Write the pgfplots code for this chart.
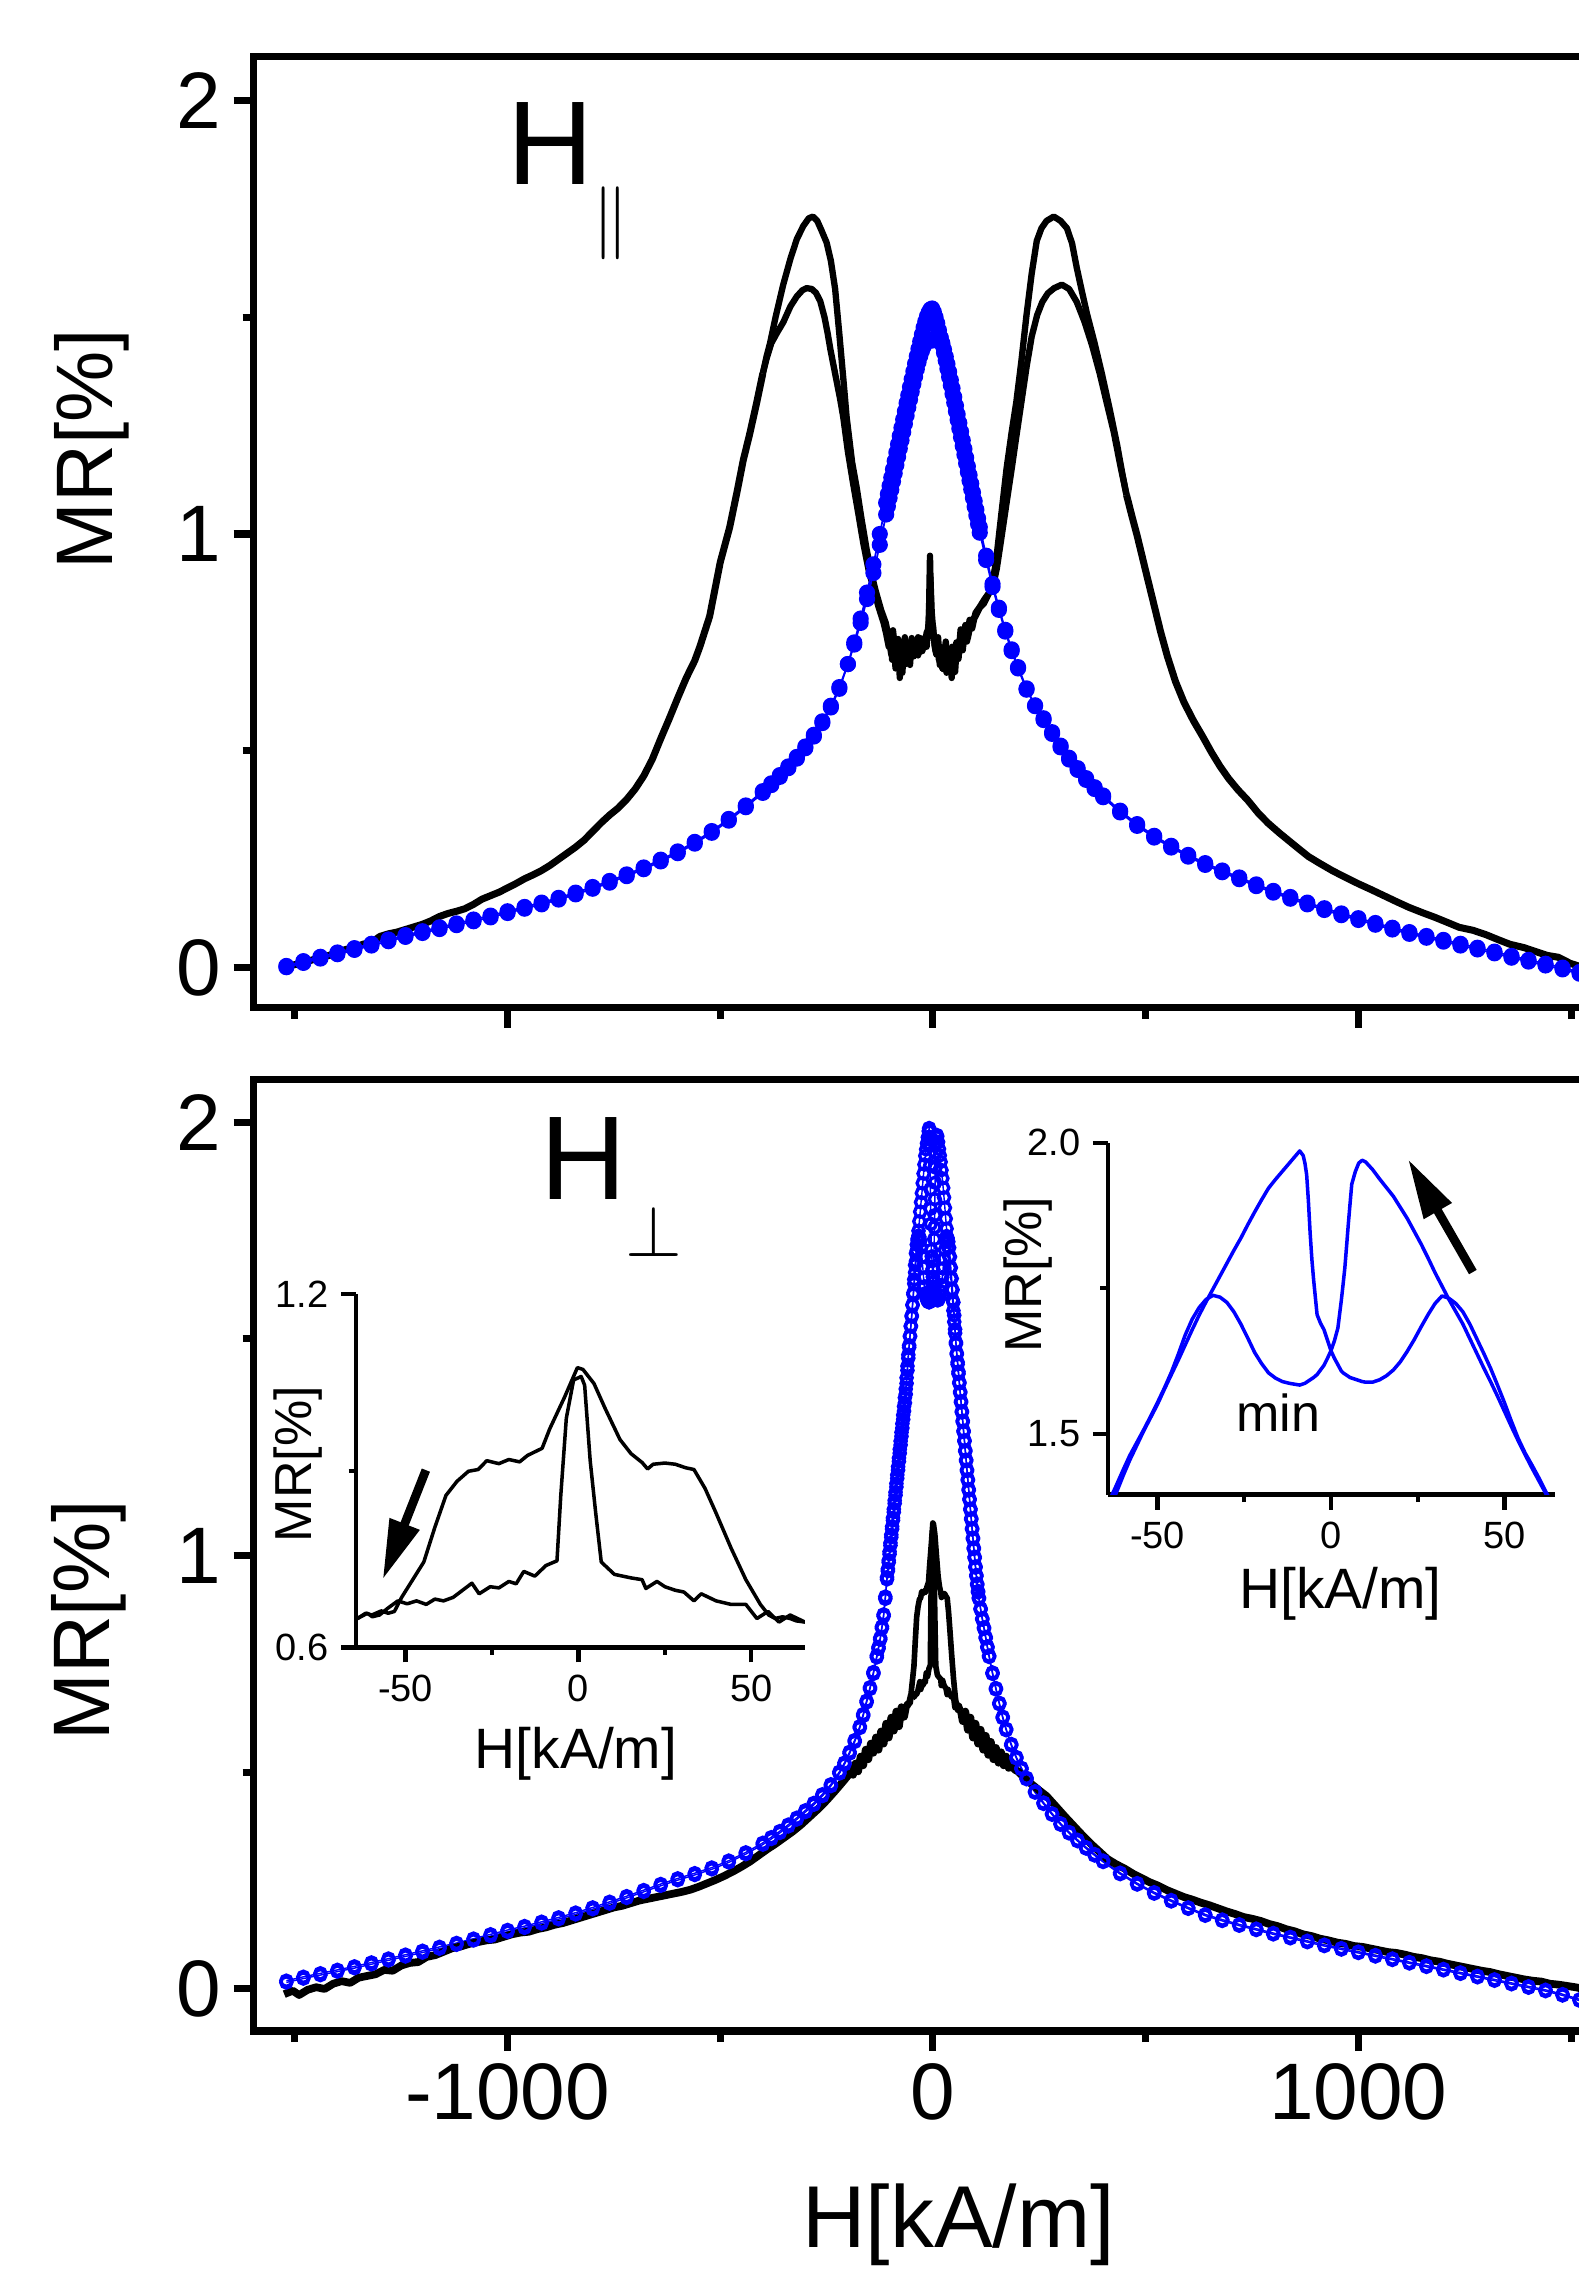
\documentclass[border=0pt]{standalone}
\usepackage{fontspec}
\setmainfont{Liberation Sans}
\usepackage{pgfplots}
\usepackage{pgfplotstable}
\pgfplotsset{compat=1.18}
\usetikzlibrary{arrows.meta}

% ---------------- top panel, blue (two sweeps, shared x) ----------------
\pgfplotstableread[row sep=\\]{
x a b\\
-1520 0.001 0.004\\ -1480 0.011 0.015\\ -1440 0.021 0.025\\ -1400 0.031 0.035\\ -1360 0.041 0.045\\
-1320 0.051 0.055\\ -1280 0.061 0.065\\ -1240 0.071 0.075\\ -1200 0.080 0.084\\ -1160 0.089 0.093\\
-1120 0.098 0.102\\ -1080 0.107 0.111\\ -1040 0.116 0.120\\ -1000 0.126 0.130\\ -960 0.136 0.140\\
-920 0.146 0.150\\ -880 0.157 0.161\\ -840 0.169 0.173\\ -800 0.182 0.186\\ -760 0.196 0.200\\
-720 0.211 0.215\\ -680 0.227 0.231\\ -640 0.245 0.249\\ -600 0.264 0.268\\ -560 0.286 0.290\\
-520 0.311 0.315\\ -480 0.339 0.343\\ -440 0.370 0.374\\ -400 0.403 0.407\\ -380 0.421 0.425\\
-360 0.440 0.444\\ -340 0.460 0.464\\ -320 0.482 0.486\\ -300 0.506 0.510\\ -280 0.533 0.537\\
-260 0.564 0.568\\ -240 0.600 0.604\\ -220 0.643 0.647\\ -200 0.700 0.700\\ -185 0.750 0.745\\
-170 0.805 0.795\\ -155 0.865 0.850\\ -140 0.930 0.910\\ -125 1.000 0.975\\ -110 1.072 1.045\\
-106 1.092 1.064\\ -102 1.111 1.083\\ -98 1.130 1.102\\ -94 1.149 1.121\\ -90 1.168 1.140\\
-86 1.188 1.159\\ -82 1.207 1.178\\ -78 1.226 1.197\\ -74 1.245 1.216\\ -70 1.264 1.235\\
-66 1.283 1.254\\ -62 1.302 1.273\\ -58 1.320 1.292\\ -54 1.339 1.310\\ -50 1.357 1.328\\
-46 1.375 1.346\\ -42 1.393 1.363\\ -38 1.410 1.380\\ -34 1.427 1.396\\ -30 1.444 1.410\\
-26 1.460 1.422\\ -22 1.476 1.432\\ -18 1.490 1.440\\ -14 1.502 1.445\\ -10 1.511 1.447\\
-6 1.518 1.447\\ -2 1.520 1.446\\ 2 1.512 1.448\\ 6 1.500 1.450\\ 10 1.486 1.458\\
14 1.470 1.460\\ 18 1.453 1.453\\ 22 1.436 1.440\\ 26 1.418 1.425\\ 30 1.400 1.409\\
34 1.381 1.392\\ 38 1.362 1.374\\ 42 1.343 1.355\\ 46 1.323 1.336\\ 50 1.303 1.316\\
54 1.283 1.296\\ 58 1.263 1.276\\ 62 1.243 1.256\\ 66 1.223 1.236\\ 70 1.203 1.216\\
74 1.183 1.196\\ 78 1.163 1.176\\ 82 1.143 1.156\\ 86 1.123 1.136\\ 90 1.103 1.116\\
94 1.083 1.096\\ 98 1.063 1.076\\ 102 1.043 1.056\\ 106 1.023 1.036\\ 110 1.003 1.016\\
125 0.940 0.950\\ 140 0.878 0.885\\ 155 0.825 0.830\\ 170 0.775 0.779\\ 185 0.730 0.734\\
200 0.690 0.693\\ 220 0.641 0.644\\ 240 0.605 0.603\\ 260 0.575 0.571\\ 280 0.543 0.539\\
300 0.512 0.508\\ 320 0.484 0.480\\ 340 0.460 0.456\\ 360 0.437 0.433\\ 380 0.416 0.412\\
400 0.397 0.393\\ 440 0.362 0.358\\ 480 0.331 0.327\\ 520 0.304 0.300\\ 560 0.281 0.277\\
600 0.260 0.256\\ 640 0.241 0.237\\ 680 0.224 0.220\\ 720 0.208 0.204\\ 760 0.192 0.188\\
800 0.177 0.173\\ 840 0.163 0.159\\ 880 0.150 0.146\\ 920 0.137 0.133\\ 960 0.125 0.121\\
1000 0.114 0.110\\ 1040 0.103 0.099\\ 1080 0.092 0.088\\ 1120 0.082 0.078\\ 1160 0.073 0.069\\
1200 0.064 0.060\\ 1240 0.055 0.051\\ 1280 0.046 0.042\\ 1320 0.037 0.033\\ 1360 0.027 0.023\\
1400 0.018 0.014\\ 1440 0.009 0.005\\ 1480 0.000 -0.004\\ 1520 -0.010 -0.014\\
}\topblue

% ---------------- top panel, black ----------------
\pgfplotstableread[row sep=\\]{
x y\\
-1525 0.000\\ -1505 0.006\\ -1485 0.010\\ -1465 0.016\\ -1440 0.024\\ -1420 0.028\\ -1400 0.036\\
-1380 0.042\\ -1360 0.046\\ -1340 0.054\\ -1320 0.058\\ -1300 0.072\\ -1280 0.078\\ -1260 0.082\\
-1240 0.088\\ -1220 0.094\\ -1200 0.100\\ -1180 0.108\\ -1160 0.118\\ -1140 0.125\\ -1120 0.130\\
-1100 0.136\\ -1080 0.146\\ -1060 0.158\\ -1040 0.166\\ -1020 0.174\\ -1000 0.184\\ -980 0.194\\
-960 0.205\\ -940 0.214\\ -920 0.224\\ -900 0.236\\ -880 0.250\\ -860 0.264\\ -840 0.278\\
-820 0.294\\ -800 0.314\\ -780 0.334\\ -760 0.352\\ -740 0.368\\ -720 0.388\\ -700 0.412\\
-680 0.442\\ -660 0.480\\ -640 0.528\\ -620 0.574\\ -600 0.622\\ -580 0.668\\ -560 0.708\\
-548 0.740\\ -525 0.810\\ -500 0.935\\ -478 1.015\\ -460 1.100\\ -446 1.170\\ -431 1.230\\
-415 1.300\\ -400 1.370\\
}\topTailL

\pgfplotstableread[row sep=\\]{
x y\\
-400 1.370\\ -391 1.410\\ -383 1.440\\ -370 1.500\\ -352 1.575\\ -335 1.635\\ -320 1.680\\
-305 1.710\\ -292 1.728\\ -282 1.732\\ -272 1.722\\ -262 1.700\\ -250 1.672\\ -240 1.630\\
-230 1.565\\ -220 1.460\\ -210 1.350\\ -203 1.270\\ -190 1.165\\ -179 1.105\\ -168 1.035\\
-156 0.965\\ -145 0.910\\ -135 0.870\\ -122 0.825\\ -111 0.795\\
-104 0.762\\ -98 0.722\\ -94 0.778\\ -90 0.742\\ -86 0.702\\ -82 0.758\\ -78 0.668\\ -74 0.742\\
-70 0.718\\ -66 0.762\\ -62 0.708\\ -58 0.732\\ -54 0.698\\ -50 0.752\\ -45 0.718\\ -40 0.742\\
-35 0.762\\ -30 0.728\\ -25 0.752\\ -20 0.738\\ -15 0.772\\ -10 0.782\\ -7 0.950\\ -4 0.802\\
0 0.788\\ 4 0.742\\ 8 0.722\\ 12 0.762\\ 16 0.698\\ 20 0.732\\ 25 0.688\\ 30 0.752\\ 35 0.702\\
40 0.722\\ 44 0.668\\ 48 0.732\\ 52 0.682\\ 56 0.742\\ 60 0.712\\ 65 0.772\\ 70 0.732\\
75 0.782\\ 80 0.752\\ 86 0.802\\ 92 0.782\\ 100 0.818\\ 110 0.832\\ 120 0.848\\ 130 0.862\\
140 0.875\\ 150 0.920\\ 160 0.985\\ 172 1.065\\ 185 1.150\\ 196 1.225\\ 208 1.305\\ 220 1.385\\
232 1.455\\ 245 1.505\\ 257 1.535\\ 270 1.555\\ 285 1.567\\ 303 1.575\\ 320 1.565\\ 338 1.535\\
356 1.490\\ 374 1.435\\ 392 1.370\\ 409 1.300\\ 425 1.235\\ 440 1.160\\ 455 1.090\\
}\topCurveOne

\pgfplotstableread[row sep=\\]{
x y\\
-400 1.370\\ -391 1.405\\ -380 1.440\\ -366 1.465\\ -352 1.488\\ -335 1.525\\ -320 1.548\\
-307 1.562\\ -297 1.567\\ -285 1.565\\ -275 1.556\\ -265 1.537\\ -255 1.500\\ -248 1.465\\
-241 1.425\\ -233 1.385\\ -226 1.350\\ -218 1.310\\ -211 1.270\\ -200 1.190\\ -188 1.118\\
-176 1.050\\ -164 0.980\\ -152 0.920\\ -140 0.875\\ -128 0.832\\ -116 0.795\\
-110 0.770\\ -104 0.740\\ -100 0.770\\ -96 0.710\\ -92 0.750\\ -88 0.690\\ -84 0.740\\ -80 0.700\\
-76 0.730\\ -72 0.680\\ -68 0.740\\ -64 0.700\\ -60 0.750\\ -55 0.720\\ -50 0.760\\ -45 0.730\\
-40 0.750\\ -35 0.720\\ -30 0.760\\ -25 0.730\\ -20 0.760\\ -15 0.740\\ -10 0.800\\ -6 0.900\\
-3 0.820\\ 2 0.760\\ 6 0.730\\ 10 0.750\\ 14 0.710\\ 18 0.740\\ 22 0.690\\ 27 0.720\\ 32 0.680\\
36 0.730\\ 40 0.700\\ 45 0.740\\ 50 0.690\\ 55 0.750\\ 60 0.720\\ 65 0.780\\ 70 0.740\\
76 0.790\\ 82 0.760\\ 90 0.800\\ 100 0.810\\ 110 0.830\\ 120 0.840\\ 130 0.860\\
137 0.873\\ 148 0.935\\ 160 1.040\\ 173 1.151\\ 185 1.235\\ 196 1.305\\ 208 1.400\\ 220 1.506\\
232 1.600\\ 244 1.676\\ 255 1.705\\ 267 1.722\\ 284 1.732\\ 300 1.722\\ 315 1.705\\ 327 1.670\\
338 1.614\\ 350 1.560\\ 362 1.508\\ 380 1.440\\ 397 1.370\\ 415 1.290\\ 433 1.205\\ 445 1.140\\
455 1.090\\
}\topCurveTwo

\pgfplotstableread[row sep=\\]{
x y\\
455 1.090\\ 468 1.040\\ 480 0.996\\ 500 0.915\\ 520 0.835\\ 535 0.775\\ 551 0.718\\ 570 0.660\\
590 0.612\\ 612 0.570\\ 634 0.533\\ 655 0.496\\ 675 0.464\\ 695 0.436\\ 717 0.410\\ 740 0.386\\
765 0.356\\ 788 0.333\\ 815 0.310\\ 840 0.290\\ 860 0.274\\ 883 0.256\\ 910 0.240\\ 940 0.223\\
970 0.208\\ 1001 0.193\\ 1030 0.180\\ 1060 0.166\\ 1090 0.152\\ 1119 0.139\\ 1150 0.127\\
1180 0.116\\ 1210 0.104\\ 1237 0.093\\ 1270 0.086\\ 1300 0.076\\ 1330 0.064\\ 1356 0.054\\
1390 0.046\\ 1420 0.036\\ 1445 0.028\\ 1470 0.024\\ 1498 0.010\\ 1530 0.000\\
}\topTailR

% ---------------- bottom panel, blue (two sweeps, shared x) ----------------
\pgfplotstableread[row sep=\\]{
x a b\\
-1520 0.015 0.019\\ -1480 0.024 0.028\\ -1440 0.032 0.036\\ -1400 0.040 0.044\\ -1360 0.048 0.052\\
-1320 0.057 0.061\\ -1280 0.066 0.070\\ -1240 0.075 0.079\\ -1200 0.084 0.088\\ -1160 0.093 0.097\\
-1120 0.102 0.106\\ -1080 0.112 0.116\\ -1040 0.122 0.126\\ -1000 0.132 0.136\\ -960 0.141 0.145\\
-920 0.151 0.155\\ -880 0.161 0.165\\ -840 0.172 0.176\\ -800 0.184 0.188\\ -760 0.197 0.201\\
-720 0.210 0.214\\ -680 0.224 0.228\\ -640 0.238 0.242\\ -600 0.251 0.255\\ -560 0.263 0.267\\
-520 0.276 0.280\\ -480 0.292 0.296\\ -440 0.311 0.315\\ -400 0.333 0.337\\ -380 0.346 0.350\\
-360 0.360 0.364\\ -340 0.375 0.379\\ -320 0.391 0.395\\ -300 0.408 0.412\\ -280 0.425 0.429\\
-260 0.445 0.449\\ -240 0.468 0.472\\ -220 0.497 0.501\\ -208 0.518 0.522\\ -196 0.543 0.547\\
-184 0.570 0.574\\ -172 0.602 0.606\\ -164 0.630 0.634\\ -156 0.661 0.665\\ -148 0.692 0.696\\
-140 0.727 0.731\\ -132 0.765 0.769\\ -128 0.785 0.789\\ -124 0.806 0.810\\ -120 0.832 0.836\\
-116 0.860 0.864\\ -112 0.900 0.905\\
-108 0.945 0.950\\ -106 0.964 0.969\\ -104 0.984 0.989\\ -102 1.003 1.009\\ -100 1.023 1.029\\
-98 1.042 1.048\\ -96 1.061 1.067\\ -94 1.081 1.087\\ -92 1.100 1.107\\ -90 1.120 1.127\\
-88 1.139 1.146\\ -86 1.158 1.166\\ -84 1.178 1.186\\ -82 1.197 1.205\\ -80 1.217 1.225\\
-78 1.236 1.245\\ -76 1.255 1.264\\ -74 1.275 1.284\\ -72 1.294 1.304\\ -70 1.314 1.324\\
-68 1.333 1.344\\ -66 1.352 1.364\\ -64 1.372 1.384\\
-62 1.397 1.410\\ -60 1.427 1.437\\ -58 1.455 1.463\\ -56 1.480 1.485\\ -54 1.505 1.507\\
-52 1.528 1.530\\ -50 1.551 1.554\\ -48 1.577 1.579\\ -46 1.602 1.606\\ -44 1.627 1.637\\
-42 1.653 1.670\\ -40 1.679 1.697\\ -38 1.704 1.717\\ -36 1.727 1.731\\ -34 1.749 1.738\\
-32 1.771 1.735\\ -30 1.793 1.726\\ -28 1.815 1.710\\ -26 1.836 1.689\\ -24 1.859 1.665\\
-22 1.881 1.640\\ -20 1.902 1.621\\ -18 1.922 1.605\\ -16 1.937 1.596\\ -14 1.951 1.590\\
-12 1.965 1.587\\ -10 1.979 1.585\\ -9 1.986 1.584\\ -8 1.978 1.586\\ -7.5 1.965 1.587\\
-7 1.945 1.589\\ -6.5 1.900 1.591\\ -6 1.845 1.593\\ -5.5 1.800 1.595\\ -5 1.765 1.597\\
-4 1.705 1.602\\ -3 1.690 1.610\\ -2 1.679 1.618\\ -1 1.661 1.630\\ 0 1.643 1.643\\
1 1.630 1.660\\ 2 1.619 1.682\\ 3 1.608 1.730\\ 3.5 1.605 1.757\\ 4 1.603 1.785\\
4.5 1.601 1.822\\ 5 1.599 1.860\\ 5.5 1.597 1.895\\ 6 1.596 1.929\\ 7 1.594 1.950\\
8 1.592 1.965\\ 9 1.590 1.970\\ 10 1.589 1.967\\ 12 1.589 1.954\\ 14 1.593 1.938\\
16 1.600 1.923\\ 18 1.610 1.908\\ 20 1.624 1.889\\ 22 1.642 1.870\\ 24 1.662 1.848\\
26 1.684 1.826\\ 28 1.705 1.802\\ 30 1.724 1.777\\ 32 1.737 1.754\\ 34 1.733 1.731\\
36 1.724 1.710\\ 38 1.710 1.689\\ 40 1.689 1.664\\ 42 1.664 1.639\\ 44 1.639 1.614\\
46 1.613 1.590\\ 48 1.584 1.565\\ 50 1.554 1.539\\ 52 1.522 1.513\\ 54 1.492 1.488\\
56 1.467 1.464\\ 58 1.446 1.441\\ 60 1.424 1.419\\ 62 1.400 1.397\\
64 1.378 1.375\\ 66 1.356 1.353\\ 68 1.333 1.330\\ 70 1.311 1.308\\ 72 1.288 1.285\\
74 1.266 1.263\\ 76 1.243 1.240\\ 78 1.221 1.218\\ 80 1.198 1.195\\ 82 1.176 1.173\\
84 1.153 1.150\\ 86 1.131 1.128\\ 88 1.108 1.105\\ 90 1.086 1.083\\ 92 1.063 1.060\\
94 1.041 1.038\\ 96 1.018 1.015\\ 98 0.997 0.994\\ 100 0.975 0.972\\ 102 0.955 0.952\\
104 0.935 0.932\\ 106 0.918 0.915\\ 108 0.903 0.900\\
112 0.878 0.875\\ 116 0.855 0.852\\ 120 0.834 0.831\\ 124 0.812 0.809\\ 128 0.790 0.787\\
132 0.769 0.766\\ 140 0.730 0.727\\ 148 0.694 0.691\\ 156 0.660 0.657\\ 164 0.628 0.625\\
172 0.600 0.597\\ 184 0.565 0.562\\ 196 0.535 0.532\\ 208 0.510 0.507\\ 220 0.487 0.484\\
240 0.456 0.453\\ 260 0.430 0.427\\ 280 0.405 0.402\\ 300 0.382 0.379\\ 320 0.362 0.359\\
340 0.344 0.341\\ 360 0.327 0.324\\ 380 0.311 0.308\\ 400 0.296 0.293\\ 440 0.268 0.265\\
480 0.244 0.241\\ 520 0.223 0.220\\ 560 0.205 0.202\\ 600 0.188 0.185\\ 640 0.172 0.169\\
680 0.160 0.157\\ 720 0.149 0.146\\ 760 0.139 0.136\\ 800 0.129 0.126\\ 840 0.120 0.117\\
880 0.111 0.108\\ 920 0.102 0.099\\ 960 0.094 0.091\\ 1000 0.086 0.083\\ 1040 0.078 0.075\\
1080 0.070 0.067\\ 1120 0.062 0.059\\ 1160 0.054 0.051\\ 1200 0.046 0.043\\ 1240 0.038 0.035\\
1280 0.030 0.027\\ 1320 0.022 0.019\\ 1360 0.014 0.011\\ 1400 0.006 0.003\\ 1440 -0.002 -0.005\\
1480 -0.012 -0.015\\ 1520 -0.024 -0.027\\
}\botblue

% ---------------- bottom panel, black ----------------
\pgfplotstableread[row sep=\\]{
x y\\
-1525 -0.012\\ -1505 -0.004\\ -1490 -0.014\\ -1470 -0.002\\ -1450 0.004\\ -1430 0.000\\
-1410 0.012\\ -1390 0.018\\ -1370 0.014\\ -1350 0.026\\ -1330 0.030\\ -1310 0.034\\ -1290 0.044\\
-1270 0.042\\ -1250 0.054\\ -1230 0.060\\ -1210 0.062\\ -1190 0.074\\ -1170 0.078\\ -1150 0.086\\
-1130 0.094\\ -1110 0.098\\ -1090 0.104\\ -1070 0.108\\ -1050 0.112\\ -1030 0.114\\ -1010 0.120\\
-990 0.126\\ -970 0.130\\ -950 0.132\\ -930 0.138\\ -910 0.142\\ -890 0.148\\ -870 0.152\\
-850 0.158\\ -830 0.164\\ -810 0.170\\ -790 0.176\\ -770 0.182\\ -750 0.188\\ -730 0.192\\
-710 0.198\\ -690 0.204\\ -670 0.208\\ -650 0.212\\ -630 0.216\\ -610 0.220\\ -590 0.224\\
-570 0.229\\ -550 0.236\\ -530 0.244\\ -510 0.252\\ -490 0.261\\ -470 0.271\\ -450 0.282\\
-430 0.294\\ -410 0.308\\ -390 0.322\\ -370 0.335\\ -350 0.349\\ -330 0.363\\ -310 0.379\\
-290 0.397\\ -270 0.415\\ -250 0.435\\ -230 0.457\\ -210 0.480\\ -200 0.492\\ -194 0.510\\
-188 0.494\\ -182 0.520\\ -176 0.502\\ -170 0.536\\ -164 0.516\\ -158 0.552\\ -152 0.530\\
-146 0.566\\ -140 0.545\\ -134 0.580\\ -128 0.552\\ -122 0.594\\ -116 0.566\\ -110 0.612\\
-104 0.580\\ -98 0.626\\ -92 0.596\\ -86 0.640\\ -80 0.606\\ -74 0.650\\ -68 0.628\\
-63.9 0.649\\
}\botTailL

\pgfplotstableread[row sep=\\]{
x y\\
65.5 0.643\\ 70 0.618\\ 76 0.640\\ 82 0.598\\ 88 0.626\\ 94 0.580\\ 100 0.612\\ 106 0.566\\
112 0.598\\ 118 0.552\\ 124 0.584\\ 130 0.540\\ 136 0.570\\ 142 0.530\\ 148 0.556\\ 154 0.522\\
160 0.546\\ 166 0.516\\ 172 0.536\\ 178 0.510\\ 184 0.524\\ 192 0.506\\ 200 0.502\\ 210 0.492\\
230 0.474\\ 250 0.458\\ 267 0.445\\ 290 0.420\\ 310 0.398\\
330 0.377\\ 350 0.356\\ 370 0.336\\ 390 0.318\\ 410 0.300\\ 430 0.288\\ 450 0.278\\ 470 0.266\\
490 0.256\\ 510 0.246\\ 530 0.238\\ 550 0.228\\ 570 0.220\\ 590 0.212\\ 610 0.206\\ 630 0.199\\
650 0.193\\ 670 0.186\\ 690 0.179\\ 710 0.173\\ 730 0.166\\ 750 0.162\\ 770 0.157\\ 790 0.150\\
810 0.145\\ 830 0.138\\ 850 0.133\\ 870 0.126\\ 890 0.122\\ 910 0.116\\ 930 0.112\\ 950 0.107\\
970 0.104\\ 990 0.099\\ 1010 0.097\\ 1030 0.093\\ 1050 0.089\\ 1070 0.085\\ 1090 0.083\\
1110 0.079\\ 1130 0.074\\ 1150 0.071\\ 1170 0.066\\ 1190 0.063\\ 1210 0.058\\ 1230 0.054\\
1250 0.050\\ 1270 0.046\\ 1290 0.042\\ 1310 0.039\\ 1330 0.034\\ 1350 0.030\\ 1370 0.026\\
1390 0.022\\ 1410 0.019\\ 1430 0.017\\ 1450 0.012\\ 1470 0.010\\ 1490 0.007\\ 1510 0.004\\
1530 0.000\\
}\botTailR

\pgfplotstableread[row sep=\\]{
x y\\
-63.9 0.649\\ -61.5 0.658\\ -59.7 0.655\\ -57 0.662\\ -55 0.658\\ -53.2 0.661\\ -51.1 0.685\\
-47.9 0.715\\ -44.7 0.745\\ -41.5 0.804\\ -38.3 0.858\\ -35.1 0.882\\ -31.8 0.899\\ -29 0.902\\
-26.5 0.917\\ -23 0.912\\ -20.1 0.919\\ -17 0.915\\ -14.7 0.926\\ -10.5 0.938\\ -8.3 0.971\\
-4.0 1.025\\ -0.3 1.075\\ 1.3 1.072\\ 4.5 1.048\\ 7.7 1.006\\ 12.0 0.953\\ 15.2 0.929\\
18.4 0.914\\ 20 0.903\\ 21.6 0.911\\ 25 0.913\\ 28.0 0.911\\ 31 0.905\\ 33.4 0.902\\ 36.6 0.870\\
39.8 0.828\\ 44.1 0.769\\ 48.4 0.715\\ 52.6 0.673\\ 55 0.655\\ 56.9 0.649\\ 59 0.652\\
61.2 0.649\\ 63 0.645\\ 65.5 0.643\\
}\curveC

\pgfplotstableread[row sep=\\]{
x y\\
-63.9 0.649\\ -61 0.658\\ -59.6 0.652\\ -57.5 0.655\\ -55 0.667\\ -52.2 0.679\\ -49.5 0.674\\
-46.8 0.679\\ -44 0.673\\ -41.5 0.682\\ -39 0.679\\ -36.2 0.685\\ -33.5 0.697\\ -30.8 0.709\\
-28.7 0.691\\ -25.5 0.703\\ -23 0.701\\ -20.1 0.712\\ -18 0.708\\ -15.8 0.729\\ -12.6 0.721\\
-9.4 0.739\\ -6.2 0.747\\ -5.1 0.858\\ -3.5 0.989\\ -1.4 1.054\\ 0.8 1.060\\ 1.8 1.045\\
3.4 0.917\\ 5.0 0.828\\ 6.6 0.745\\ 10.4 0.724\\ 15.2 0.718\\ 18.4 0.715\\ 19.5 0.700\\
22.7 0.712\\ 25 0.703\\ 28.0 0.697\\ 30.5 0.694\\ 33.4 0.679\\ 35.5 0.691\\ 39.8 0.679\\
44.1 0.673\\ 48.4 0.673\\ 51.6 0.649\\ 54.8 0.661\\ 58.0 0.643\\ 61.2 0.655\\ 65.5 0.643\\
}\curveD

\pgfplotsset{
  mainaxis/.style={
    scale only axis, width=136.0mm, height=95.1mm,
    xmin=-1597, xmax=1600,
    axis line style={line width=2pt},
    tick align=outside, xtick pos=bottom, ytick pos=left,
    major tick length=2mm, minor tick length=1.1mm,
    tick style={line width=2pt, black},
    xtick={-1000,0,1000}, minor xtick={-1500,-500,500,1500},
    ytick={0,1,2}, minor ytick={0.5,1.5}, yticklabels={0,1,2},
    ticklabel style={font=\fontsize{22.8}{27}\selectfont},
  },
  insetaxis/.style={
    scale only axis,
    axis x line=bottom, axis y line=left,
    axis line style={line width=1.2pt, -},
    tick align=outside,
    major tick length=1.5mm, minor tick length=0.75mm,
    tick style={line width=1.2pt, black},
    ticklabel style={font=\fontsize{10.8}{13}\selectfont},
    xtick={-50,0,50}, minor xtick={-25,25}, xticklabels={-50,0,50},
  },
}

\begin{document}
\begin{tikzpicture}
% ===== top panel =====
\begin{axis}[mainaxis, at={(25.36mm,126.1mm)}, anchor=south west,
  ymin=-0.093, ymax=2.10, xticklabels={,,}]
\addplot[black, line width=2.0pt, line join=round] table[x=x,y=y] {\topTailL};
\addplot[black, line width=1.8pt, line join=round] table[x=x,y=y] {\topCurveOne};
\addplot[black, line width=1.8pt, line join=round] table[x=x,y=y] {\topCurveTwo};
\addplot[black, line width=2.0pt, line join=round] table[x=x,y=y] {\topTailR};
\addplot[blue, line width=0.5pt, mark=*, mark size=2.1pt,
  mark options={draw=blue, fill=blue, line width=0.4pt}] table[x=x,y=b] {\topblue};
\addplot[blue, line width=0.5pt, mark=*, mark size=2.1pt,
  mark options={draw=blue, fill=blue, line width=0.4pt}] table[x=x,y=a] {\topblue};
\end{axis}

% ===== bottom panel =====
\begin{axis}[mainaxis, at={(25.36mm,23.8mm)}, anchor=south west,
  ymin=-0.097, ymax=2.097, xticklabels={-1000,0,1000}]
\addplot[blue, line width=0.4pt, mark=o, mark size=1.6pt,
  mark options={line width=0.95pt, draw=blue}] table[x=x,y=a] {\botblue};
\addplot[blue, line width=0.4pt, mark=o, mark size=1.6pt,
  mark options={line width=0.95pt, draw=blue}] table[x=x,y=b] {\botblue};
\addplot[black, line width=2.2pt, line join=round] table[x=x,y=y] {\botTailL};
\addplot[black, line width=2.2pt, line join=round] table[x=x,y=y] {\botTailR};
\addplot[black, line width=1.6pt, line join=round] table[x=x,y=y] {\curveC};
\addplot[black, line width=1.6pt, line join=round] table[x=x,y=y] {\curveD};
\end{axis}

% ===== left inset =====
\begin{axis}[insetaxis, at={(35.6mm,62.16mm)}, anchor=south west,
  width=44.9mm, height=35.34mm,
  xmin=-64.3, xmax=65.5, ymin=0.6, ymax=1.2,
  ytick={0.6,1.2}, minor ytick={0.9}, yticklabels={0.6,1.2}]
\addplot[black, line width=1pt, line join=round] table[x=x,y=y] {\curveC};
\addplot[black, line width=1pt, line join=round] table[x=x,y=y] {\curveD};
\draw[line width=2.5pt, -{Triangle[length=6mm,width=3mm]}]
  (axis cs:-44.1,0.901) -- (axis cs:-56.6,0.715);
\end{axis}

% ===== right inset =====
\begin{axis}[insetaxis, at={(110.78mm,77.44mm)}, anchor=south west,
  width=44.72mm, height=35.18mm,
  xmin=-64.3, xmax=64.6, ymin=1.396, ymax=2.0,
  ytick={1.5,2.0}, minor ytick={1.75}, yticklabels={1.5,2.0}]
\addplot[blue, line width=1pt, line join=round] table[x=x,y=a] {\botblue};
\addplot[blue, line width=1pt, line join=round] table[x=x,y=b] {\botblue};
\draw[line width=2.5pt, -{Triangle[length=6mm,width=3mm]}]
  (axis cs:40.9,1.778) -- (axis cs:22.2,1.972);
\node[anchor=base, inner sep=0pt, font=\fontsize{14.8}{17}\selectfont]
  at (axis cs:-15.1,1.504) {min};
\end{axis}

% ===== labels =====
\node[rotate=90, anchor=base, inner sep=0pt, font=\fontsize{22.8}{27}\selectfont]
  at (11.2mm,182.0mm) {MR[\%]};
\node[rotate=90, anchor=base, inner sep=0pt, font=\fontsize{22.8}{27}\selectfont]
  at (11.0mm,64.85mm) {MR[\%]};
\node[anchor=base, inner sep=0pt, font=\fontsize{25}{30}\selectfont]
  at (95.86mm,2.1mm) {H[kA/m]};
\node[anchor=base, inner sep=0pt, font=\fontsize{33.9}{40}\selectfont]
  at (55.05mm,208.47mm) {H};
\node[anchor=center, inner sep=0pt, font=\fontsize{20.5}{24}\selectfont]
  at (61.05mm,204.6mm) {$\parallel$};
\node[anchor=base, inner sep=0pt, font=\fontsize{33.9}{40}\selectfont]
  at (58.34mm,106.9mm) {H};
\node[anchor=center, inner sep=0pt, font=\fontsize{20.5}{24}\selectfont]
  at (65.42mm,103.8mm) {$\perp$};
% inset labels
\node[anchor=base, inner sep=0pt, font=\fontsize{16.2}{19}\selectfont]
  at (57.6mm,50.0mm) {H[kA/m]};
\node[rotate=90, anchor=base, inner sep=0pt, font=\fontsize{14.8}{17}\selectfont]
  at (31.1mm,80.5mm) {MR[\%]};
\node[anchor=base, inner sep=0pt, font=\fontsize{16.2}{19}\selectfont]
  at (134.04mm,66.03mm) {H[kA/m]};
\node[rotate=90, anchor=base, inner sep=0pt, font=\fontsize{14.8}{17}\selectfont]
  at (104.1mm,99.44mm) {MR[\%]};

\pgfresetboundingbox
\useasboundingbox (0,0) rectangle (157.8mm,226.9mm);
\end{tikzpicture}
\end{document}
